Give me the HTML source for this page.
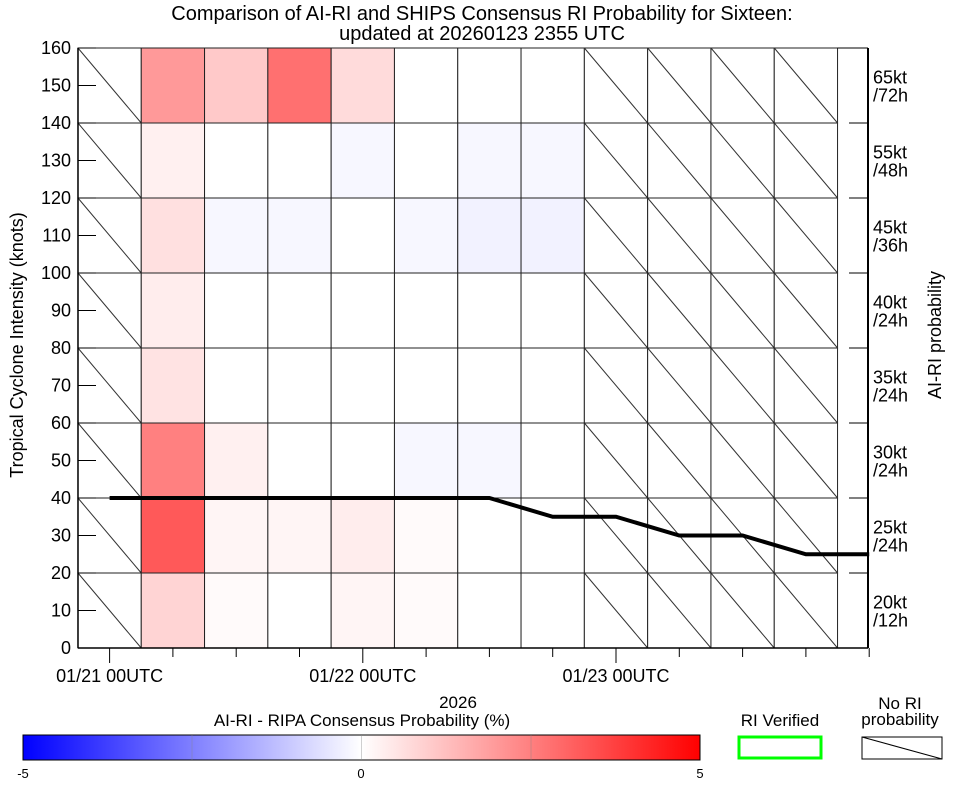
<!DOCTYPE html>
<html><head><meta charset="utf-8"><style>
html,body{margin:0;padding:0;background:#fff;}
svg{display:block;font-family:"Liberation Sans",sans-serif;}
</style></head><body>
<svg id="chart" width="964" height="786" viewBox="0 0 964 786">
<defs>
<linearGradient id="cbar" x1="0" x2="1" y1="0" y2="0">
<stop offset="0" stop-color="#0000ff"/><stop offset="0.5" stop-color="#ffffff"/><stop offset="1" stop-color="#ff0000"/>
</linearGradient>
</defs>
<text x="482" y="20" font-size="20" text-anchor="middle">Comparison of AI-RI and SHIPS Consensus RI Probability for Sixteen:</text>
<text x="482" y="40" font-size="20" text-anchor="middle">updated at 20260123 2355 UTC</text>
<g id="cells"></g>
<g id="grid"></g>
<g id="axes"></g>
<path id="intensity" fill="none" stroke="#000" stroke-width="4"/>
<text transform="translate(23,345) rotate(-90)" font-size="18" text-anchor="middle">Tropical Cyclone Intensity (knots)</text>
<text transform="translate(941,335) rotate(-90)" font-size="18" text-anchor="middle">AI-RI probability</text>
<text x="458" y="708" font-size="17" text-anchor="middle">2026</text>
<text x="362" y="726" font-size="17" text-anchor="middle">AI-RI - RIPA Consensus Probability (%)</text>
<rect x="23" y="735" width="677" height="25" fill="url(#cbar)" stroke="#000" stroke-width="1"/>
<line x1="192" y1="735" x2="192" y2="760" stroke="#888" stroke-width="0.4"/>
<line x1="361.5" y1="735" x2="361.5" y2="760" stroke="#888" stroke-width="0.4"/>
<line x1="531" y1="735" x2="531" y2="760" stroke="#888" stroke-width="0.4"/>
<text x="23" y="778" font-size="13" text-anchor="middle">-5</text>
<text x="361" y="778" font-size="13" text-anchor="middle">0</text>
<text x="700" y="778" font-size="13" text-anchor="middle">5</text>
<text x="780" y="726" font-size="17" text-anchor="middle">RI Verified</text>
<rect x="739" y="737" width="82" height="21" fill="none" stroke="#00ff00" stroke-width="3"/>
<text x="900" y="709" font-size="17" text-anchor="middle">No RI</text>
<text x="900" y="725" font-size="17" text-anchor="middle">probability</text>
<rect x="862" y="737" width="80" height="22" fill="none" stroke="#000" stroke-width="1"/>
<line x1="862" y1="737" x2="942" y2="759" stroke="#000" stroke-width="1"/>
</svg>
<script>
// Data
const rowLabelsTop = ["20kt","25kt","30kt","35kt","40kt","45kt","55kt","65kt"];
const rowLabelsBot = ["/12h","/24h","/24h","/24h","/24h","/36h","/48h","/72h"];
const hatchedCols = [0,8,9,10,11];
// diff values [row 0 (0-20kt) .. row 7 (140-160kt)][col 0..11]
const diffRow0 = [0,0.85,0.1,0,0.2,0.1,0,0,0,0,0,0];
const diffRow1 = [0,3.25,0.2,0.2,0.35,0.1,0,0,0,0,0,0];
const diffRow2 = [0,2.5,0.3,0,0,-0.15,-0.15,0,0,0,0,0];
const diffRow3 = [0,0.55,0,0,0,0,0,0,0,0,0,0];
const diffRow4 = [0,0.35,0,0,0,0,0,0,0,0,0,0];
const diffRow5 = [0,0.6,-0.15,-0.15,0,-0.15,-0.25,-0.25,0,0,0,0];
const diffRow6 = [0,0.3,0,0,-0.15,0,-0.15,-0.15,0,0,0,0];
const diffRow7 = [0,2.0,1.05,2.8,0.7,0,0,0,0,0,0,0];
const diffRows = [diffRow0,diffRow1,diffRow2,diffRow3,diffRow4,diffRow5,diffRow6,diffRow7];
const intensity = [40,40,40,40,40,40,40,35,35,30,30,25,25];
const yTicks = [0,10,20,30,40,50,60,70,80,90,100,110,120,130,140,150,160];
const xMajorLabels = ["01/21 00UTC","01/22 00UTC","01/23 00UTC"];
const xMajorIdx = [0,4,8];

const NS="http://www.w3.org/2000/svg";
const L=78,R=868,T=48,B=648,colW=63.3;
const xs = t => 109.6 + colW*t;
const ys = v => B - (v/160)*(B-T);
function mk(parent,tag,attrs){const e=document.createElementNS(NS,tag);for(const k in attrs)e.setAttribute(k,attrs[k]);document.getElementById(parent).appendChild(e);return e;}
function color(v){const f=Math.min(1,Math.abs(v)/5);const c=Math.round(255*(1-f));return v>=0?`rgb(255,${c},${c})`:`rgb(${c},${c},255)`;}

for(let r=0;r<8;r++){
  for(let c=0;c<12;c++){
    const x0=xs(c-0.5), y0=ys((r+1)*20), y1=ys(r*20);
    const rect=mk("cells","rect",{x:x0,y:y0,width:colW,height:y1-y0,fill:hatchedCols.includes(c)?"#fff":color(diffRows[r][c]),stroke:"#222","stroke-width":1});
    
    
    if(hatchedCols.includes(c)){
      const ln=mk("cells","line",{x1:x0,y1:y0,x2:x0+colW,y2:y1,stroke:"#333","stroke-width":1});
      
      
    }
  }
  const t1=mk("axes","text",{x:873,y:ys(r*20+10)-2,"font-size":18});
  t1.textContent=rowLabelsTop[r];
  
  
  const t2=mk("axes","text",{x:873,y:ys(r*20+10)+16,"font-size":18});
  t2.textContent=rowLabelsBot[r];
  
  
}
// axes
mk("axes","line",{x1:L,y1:T,x2:L,y2:B,stroke:"#000","stroke-width":1.5});
mk("axes","line",{x1:L,y1:B,x2:R,y2:B,stroke:"#000","stroke-width":1.5});
mk("axes","line",{x1:R,y1:T,x2:R,y2:B,stroke:"#000","stroke-width":2});
mk("axes","line",{x1:xs(11.5),y1:T,x2:R,y2:T,stroke:"#000","stroke-width":1});
for(let r=0;r<=8;r++){mk("axes","line",{x1:849,y1:ys(r*20),x2:R,y2:ys(r*20),stroke:"#000","stroke-width":1});}
yTicks.forEach(v=>{
  mk("axes","line",{x1:L,y1:ys(v),x2:L+18,y2:ys(v),stroke:"#000","stroke-width":1});
  const t=mk("axes","text",{x:71,y:ys(v)+6,"font-size":18,"text-anchor":"end"});
  t.textContent=v;
  
  
});
for(let t=0;t<=12;t++){
  const major=xMajorIdx.includes(t);
  mk("axes","line",{x1:xs(t),y1:B,x2:xs(t),y2:B+(major?15:9),stroke:"#000","stroke-width":1});
}
xMajorIdx.forEach((t,i)=>{
  const tx=mk("axes","text",{x:xs(t),y:682,"font-size":18,"text-anchor":"middle"});
  tx.textContent=xMajorLabels[i];
  
  
});
document.getElementById("intensity").setAttribute("d",intensity.map((v,i)=>(i?"L":"M")+xs(i)+","+ys(v)).join(" "));
</script>
</body></html>
